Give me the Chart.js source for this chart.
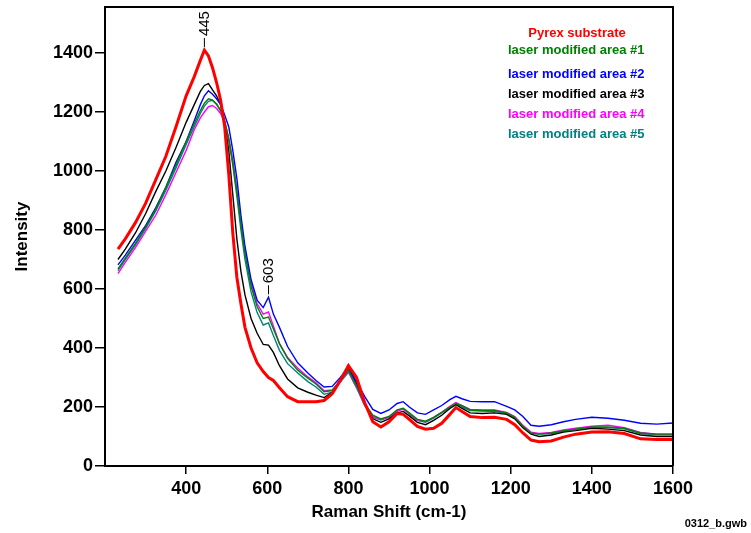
<!DOCTYPE html>
<html>
<head>
<meta charset="utf-8">
<script src="https://cdn.jsdelivr.net/npm/chart.js@4.4.1/dist/chart.umd.min.js"></script>
<style>
  html, body { margin: 0; padding: 0; background: #fff; }
  #wrap { width: 751px; height: 533px; position: relative; }
</style>
</head>
<body>
<div id="wrap"><canvas id="ramanChart"></canvas></div>
<script>
// Raman shift grid (cm-1) shared by all spectra
const wavenumbers = [232, 250, 275, 300, 325, 350, 375, 400, 420, 435, 445, 455, 465, 475, 485, 495, 505, 515, 525, 535,
  545, 560, 575, 590, 603, 615, 630, 650, 675, 700, 720, 740, 760, 780, 800, 820, 840, 860, 880, 900,
  920, 935, 950, 970, 990, 1010, 1030, 1050, 1065, 1080, 1100, 1130, 1160, 1190, 1210, 1230, 1250, 1270, 1300, 1330,
  1360, 1400, 1440, 1480, 1520, 1560, 1600];

const pyrex = [735, 770, 825, 890, 970, 1050, 1150, 1255, 1320, 1375, 1410, 1390, 1350, 1300, 1240, 1150, 990, 790, 640, 550,
  470, 400, 350, 320, 300, 290, 265, 235, 218, 218, 218, 222, 245, 290, 340, 300, 215, 150, 132, 150,
  178, 175, 158, 134, 125, 128, 145, 175, 198, 185, 168, 164, 165, 158, 140, 112, 88, 82, 85, 98,
  108, 115, 116, 110, 92, 90, 90];

const area1 = [668, 705, 755, 810, 870, 945, 1020, 1100, 1160, 1205, 1230, 1245, 1240, 1225, 1205, 1170, 1110, 1030, 930, 820,
  720, 610, 540, 500, 505, 465, 415, 365, 325, 298, 278, 252, 256, 290, 325, 272, 212, 172, 160, 168,
  190, 196, 180, 158, 152, 165, 182, 200, 212, 205, 190, 188, 188, 180, 165, 135, 112, 108, 112, 120,
  125, 132, 132, 128, 112, 108, 108];

const area2 = [682, 715, 765, 815, 875, 945, 1030, 1100, 1170, 1225, 1255, 1272, 1260, 1245, 1225, 1190, 1150, 1070, 975, 850,
  745, 632, 562, 537, 572, 515, 470, 405, 350, 315, 290, 268, 270, 300, 334, 285, 236, 192, 178, 190,
  212, 218, 200, 180, 175, 190, 205, 225, 236, 228, 219, 218, 218, 202, 190, 168, 138, 135, 140, 150,
  158, 165, 162, 155, 145, 142, 146];

const area3 = [700, 735, 790, 855, 930, 1000, 1080, 1165, 1225, 1270, 1290, 1296, 1275, 1255, 1225, 1160, 1070, 920, 770, 660,
  580, 500, 450, 412, 410, 385, 340, 295, 265, 250, 240, 232, 250, 290, 330, 280, 210, 160, 148, 160,
  180, 185, 170, 148, 140, 155, 172, 195, 208, 195, 180, 178, 180, 175, 160, 130, 108, 100, 105, 115,
  120, 128, 125, 120, 105, 100, 100];

const area4 = [652, 690, 740, 795, 850, 920, 995, 1070, 1140, 1180, 1200, 1218, 1222, 1212, 1195, 1165, 1110, 1035, 935, 830,
  730, 620, 550, 515, 522, 475, 415, 368, 332, 302, 282, 255, 258, 290, 322, 268, 206, 168, 158, 166,
  188, 192, 178, 156, 150, 165, 182, 202, 215, 205, 192, 190, 190, 182, 168, 138, 115, 110, 114, 122,
  128, 135, 138, 130, 114, 108, 108];

const area5 = [662, 700, 750, 805, 865, 935, 1010, 1090, 1150, 1195, 1220, 1236, 1240, 1228, 1205, 1168, 1105, 1020, 915, 800,
  700, 590, 520, 478, 485, 442, 392, 347, 315, 286, 268, 243, 250, 285, 318, 265, 205, 165, 156, 165,
  185, 195, 176, 155, 148, 162, 180, 198, 210, 200, 188, 186, 185, 178, 162, 135, 112, 108, 110, 118,
  124, 130, 130, 126, 110, 106, 106];

const seriesNames = ['Pyrex substrate', 'laser modified area #1', 'laser modified area #2',
  'laser modified area #3', 'laser modified area #4', 'laser modified area #5'];
const seriesColors = ['#ff0000', '#008000', '#0000ff', '#000000', '#ff00ff', '#008080'];
const seriesValues = [pyrex, area1, area2, area3, area4, area5];

const xTicks = [400, 600, 800, 1000, 1200, 1400, 1600];
const yTicks = [0, 200, 400, 600, 800, 1000, 1200, 1400];

// marked peaks: position and the spectrum the marker sits on
const peakPositions = [445, 603];
const peakSeries = [0, 2];

const FONT = "'Liberation Sans', Arial, Helvetica, sans-serif";

const datasets = seriesValues.map((vals, i) => ({
    label: seriesNames[i],
    data: wavenumbers.map((x, j) => ({ x: x, y: vals[j] })),
    borderColor: seriesColors[i],
    backgroundColor: seriesColors[i],
    borderWidth: i === 0 ? 3 : 1.4,
    pointRadius: 0,
    tension: 0
}));

const framePlugin = {
    id: 'frame',
    afterDraw(chart) {
        const ctx = chart.ctx;
        const a = chart.chartArea;
        ctx.save();
        ctx.strokeStyle = '#000';
        ctx.lineWidth = 2;
        ctx.beginPath();
        ctx.moveTo(a.left, a.top);
        ctx.lineTo(a.right, a.top);
        ctx.lineTo(a.right, a.bottom);
        ctx.stroke();
        ctx.restore();
    }
};

const textLegendPlugin = {
    id: 'textLegend',
    afterDraw(chart) {
        const ctx = chart.ctx;
        const rows = [33, 50, 74, 94, 114, 134];
        ctx.save();
        ctx.font = 'bold 13px ' + FONT;
        ctx.textBaseline = 'middle';
        seriesNames.forEach((name, i) => {
            ctx.fillStyle = seriesColors[i];
            if (i === 0) {
                ctx.textAlign = 'center';
                ctx.fillText(name, 577, rows[i]);
            } else {
                ctx.textAlign = 'left';
                ctx.fillText(name, 508, rows[i]);
            }
        });
        ctx.restore();
    }
};

const peakMarkPlugin = {
    id: 'peakMarks',
    afterDraw(chart) {
        const ctx = chart.ctx;
        const xs = chart.scales.x;
        const ys = chart.scales.y;
        ctx.save();
        ctx.strokeStyle = '#000';
        ctx.fillStyle = '#000';
        ctx.lineWidth = 1;
        ctx.font = '15px ' + FONT;
        peakPositions.forEach((pos, k) => {
            const vals = seriesValues[peakSeries[k]];
            const idx = wavenumbers.indexOf(pos);
            const px = xs.getPixelForValue(pos);
            const py = ys.getPixelForValue(vals[idx]) - 3;
            ctx.beginPath();
            ctx.moveTo(px, py);
            ctx.lineTo(px, py - 9);
            ctx.stroke();
            ctx.save();
            ctx.translate(px, py - 11);
            ctx.rotate(-Math.PI / 2);
            ctx.textAlign = 'left';
            ctx.textBaseline = 'middle';
            ctx.fillText(String(pos), 0, 0);
            ctx.restore();
        });
        ctx.font = 'bold 11px ' + FONT;
        ctx.textAlign = 'right';
        ctx.textBaseline = 'middle';
        ctx.fillText('0312_b.gwb', 747, 524);
        ctx.restore();
    }
};

new Chart(document.getElementById('ramanChart'), {
    type: 'line',
    data: { datasets: datasets },
    plugins: [framePlugin, textLegendPlugin, peakMarkPlugin],
    options: {
        responsive: true,
        maintainAspectRatio: false,
        animation: false,
        layout: { padding: { top: 7, right: 78, left: 0, bottom: 0 } },
        plugins: {
            legend: { display: false },
            tooltip: { enabled: false }
        },
        scales: {
            x: {
                type: 'linear',
                min: 200,
                max: 1600,
                afterBuildTicks(scale) {
                    scale.ticks = xTicks.map(v => ({ value: v }));
                },
                afterFit(scale) {
                    scale.height = 67;
                    scale.paddingLeft = 0;
                    scale.paddingRight = 0;
                },
                border: { display: true, color: '#000', width: 2 },
                grid: { display: true, drawOnChartArea: false, color: '#000', lineWidth: 1.5, tickLength: 8 },
                ticks: {
                    color: '#000',
                    padding: 4,
                    maxRotation: 0,
                    callback: v => String(v),
                    font: { family: FONT, size: 18, weight: 'bold' }
                },
                title: {
                    display: true,
                    text: 'Raman Shift (cm-1)',
                    color: '#000',
                    padding: { top: 2, bottom: 10 },
                    font: { family: FONT, size: 17, weight: 'bold' }
                }
            },
            y: {
                min: 0,
                max: 1556,
                afterBuildTicks(scale) {
                    scale.ticks = yTicks.map(v => ({ value: v }));
                },
                afterFit(scale) {
                    scale.width = 105;
                    scale.paddingTop = 0;
                    scale.paddingBottom = 0;
                },
                border: { display: true, color: '#000', width: 2 },
                grid: { display: true, drawOnChartArea: false, color: '#000', lineWidth: 1.5, tickLength: 10 },
                ticks: {
                    color: '#000',
                    padding: 2,
                    callback: v => String(v),
                    font: { family: FONT, size: 18, weight: 'bold' }
                },
                title: {
                    display: true,
                    text: 'Intensity',
                    color: '#000',
                    padding: { top: 12, bottom: 0 },
                    font: { family: FONT, size: 17, weight: 'bold' }
                }
            }
        }
    }
});
</script>
</body>
</html>
